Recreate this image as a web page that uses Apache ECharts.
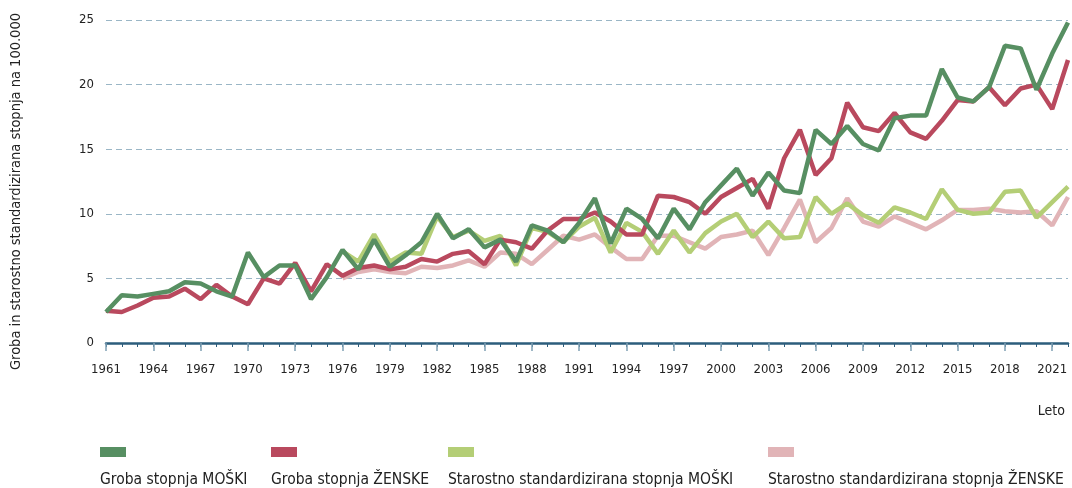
<!DOCTYPE html>
<html>
<head>
<meta charset="utf-8">
<script src="https://cdn.jsdelivr.net/npm/echarts@6/dist/echarts.min.js"></script>
<style>
html,body{margin:0;padding:0;background:#fff;}
#c{width:1072px;height:488px;}
</style>
</head>
<body>
<div id="c"></div>
<script>
const years = [];
for (let y = 1961; y <= 2022; y++) years.push(String(y));

const grobaMoski = [2.4,3.7,3.6,3.8,4.0,4.7,4.6,4.0,3.6,7.0,
5.1,6.0,6.0,3.4,5.1,7.2,5.7,8.0,5.9,6.8,
7.8,10.0,8.1,8.8,7.4,8.0,6.3,9.1,8.7,7.8,
9.3,11.2,7.7,10.4,9.6,8.1,10.4,8.8,10.9,12.2,
13.5,11.4,13.2,11.8,11.6,16.5,15.4,16.8,15.4,14.9,
17.4,17.6,17.6,21.2,19.0,18.7,19.8,23.0,22.8,19.6,
22.4,24.8];

const grobaZenske = [2.5,2.4,2.9,3.5,3.6,4.2,3.4,4.5,3.6,3.0,
5.0,4.6,6.2,4.0,6.1,5.2,5.8,6.0,5.7,5.9,
6.5,6.3,6.9,7.1,6.1,8.0,7.8,7.3,8.7,9.6,
9.6,10.1,9.4,8.4,8.4,11.4,11.3,10.9,10.0,11.3,
12.0,12.7,10.4,14.3,16.5,13.0,14.3,18.6,16.7,16.4,
17.8,16.3,15.8,17.2,18.8,18.7,19.8,18.4,19.7,20.0,
18.1,21.9];

const stdMoski = [null,null,null,null,null,null,null,null,null,null,
null,null,null,null,null,7.1,6.3,8.4,6.3,7.0,
6.9,9.8,8.2,8.7,7.9,8.3,6.0,8.9,8.6,7.8,
9.0,9.7,7.0,9.3,8.6,6.9,8.7,7.0,8.5,9.4,
10.0,8.2,9.4,8.1,8.2,11.3,10.0,10.8,9.9,9.3,
10.5,10.1,9.6,11.9,10.3,10.0,10.1,11.7,11.8,9.7,
10.9,12.1];

const stdZenske = [null,null,null,null,null,null,null,null,null,null,
null,null,null,null,null,5.0,5.5,5.7,5.5,5.4,
5.9,5.8,6.0,6.4,5.9,7.0,6.9,6.1,7.2,8.3,
8.0,8.4,7.4,6.5,6.5,8.3,8.3,7.8,7.3,8.2,
8.4,8.7,6.8,8.9,11.1,7.8,8.9,11.2,9.4,9.0,
9.8,9.3,8.8,9.5,10.3,10.3,10.4,10.2,10.1,10.2,
9.1,11.3];

const names = ['Groba stopnja MOŠKI','Groba stopnja ŽENSKE','Starostno standardizirana stopnja MOŠKI','Starostno standardizirana stopnja ŽENSKE'];
const colors = ['#578f62','#b9495e','#b4ce76','#e1b4b7'];
const FONT = "'Liberation Sans Narrow','DejaVu Sans Condensed',sans-serif";

const chart = echarts.init(document.getElementById('c'));

function mkLegend(i, left) {
  return {
    left: left, top: 444, itemWidth: 0, itemHeight: 0, icon: 'rect',
    selectedMode: false, padding: 0, itemGap: 0,
    data: [names[i]],
    formatter: function (n) { return '{sw|}\n{t|' + n + '}'; },
    textStyle: {
      fontFamily: FONT, fontSize: 15.5, color: '#222',
      rich: {
        sw: {backgroundColor: colors[i], width: 26, height: 10, lineHeight: 12},
        t: {fontFamily: FONT, fontSize: 15.5, color: '#222', lineHeight: 30, verticalAlign: 'bottom'}
      }
    }
  };
}

const option = {
  animation: false,
  backgroundColor: '#fff',
  grid: {left: 106, right: 4, top: 20, bottom: 145, outerBoundsMode: 'none', containLabel: false},
  legend: [mkLegend(0, 95), mkLegend(1, 266), mkLegend(2, 443), mkLegend(3, 763)],
  graphic: [{
    type: 'text', right: 7, top: 404,
    style: {text: 'Leto', font: "14px 'Liberation Sans Narrow','DejaVu Sans Condensed',sans-serif", fill: '#222'}
  }],
  xAxis: [{
    type: 'category', data: years, boundaryGap: false,
    axisLine: {lineStyle: {color: '#2c5d7c', width: 2.5}},
    axisTick: {interval: 0, length: 4, lineStyle: {color: '#2c5d7c', width: 1}},
    axisLabel: {interval: 2, margin: 20, fontFamily: FONT, fontSize: 13, color: '#222'},
    splitLine: {show: false}
  }, {
    type: 'category', data: years, boundaryGap: false, position: 'bottom',
    axisLine: {show: false},
    axisTick: {interval: 2, length: 8, lineStyle: {color: '#7fa0b4', width: 1.5}},
    axisLabel: {show: false},
    splitLine: {show: false}
  }],
  yAxis: {
    type: 'value', min: 0, max: 25, interval: 5,
    name: 'Groba in starostno standardizirana stopnja na 100.000',
    nameLocation: 'middle', nameGap: 82, nameRotate: 90,
    nameTextStyle: {fontFamily: FONT, fontSize: 14.5, color: '#222', padding: [0, 20, 0, 0]},
    axisLine: {show: false}, axisTick: {show: false},
    axisLabel: {margin: 12, fontFamily: FONT, fontSize: 13, color: '#222'},
    splitLine: {lineStyle: {color: '#9ab6c6', type: [6, 4], width: 1}}
  },
  series: [
    {name: names[3], type: 'line', data: stdZenske, symbol: 'none', z: 2, lineStyle: {color: colors[3], width: 4.5}, itemStyle: {color: colors[3]}},
    {name: names[2], type: 'line', data: stdMoski, symbol: 'none', z: 3, lineStyle: {color: colors[2], width: 4.5}, itemStyle: {color: colors[2]}},
    {name: names[1], type: 'line', data: grobaZenske, symbol: 'none', z: 4, lineStyle: {color: colors[1], width: 4.5}, itemStyle: {color: colors[1]}},
    {name: names[0], type: 'line', data: grobaMoski, symbol: 'none', z: 5, lineStyle: {color: colors[0], width: 4.5}, itemStyle: {color: colors[0]}}
  ]
};
chart.setOption(option);
</script>
</body>
</html>
